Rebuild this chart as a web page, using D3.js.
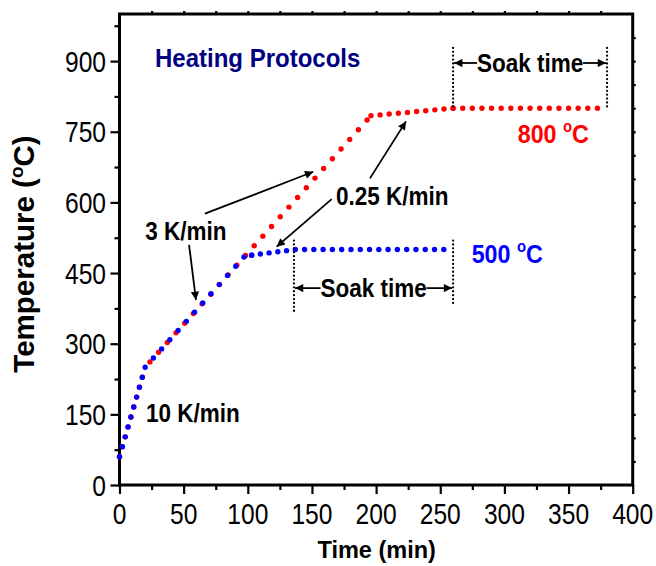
<!DOCTYPE html>
<html><head><meta charset="utf-8">
<script src="https://cdn.jsdelivr.net/npm/d3@7"></script>
<style>
body{margin:0;background:#fff}
text{font-family:"Liberation Sans",Arial,Helvetica,sans-serif}
</style>
</head><body>
<svg id="c" width="656" height="566"></svg>
<script>
// ---- data ----
const timeTicks = [0, 50, 100, 150, 200, 250, 300, 350, 400];
const tempTicks = [0, 150, 300, 450, 600, 750, 900];
const blueTime = [0, 20, 97, 103, 137, 260];
const blueTemp = [60, 250, 484, 488, 500, 500];
const redTime  = [0, 20, 196, 260, 380];
const redTemp  = [60, 250, 784, 800, 800];
// annotations (data coordinates)
const rateLabels = [
  {t: 20, T: 520, text: "3 K/min"},
  {t: 20.7, T: 134, text: "10 K/min"},
  {t: 168.7, T: 594, text: "0.25 K/min"}
];
const rateArrows = [
  {t0: 66.6, T0: 576, t1: 151, T1: 665},
  {t0: 54.2, T0: 510, t1: 59.6, T1: 393},
  {t0: 165.4, T0: 607, t1: 122.5, T1: 506},
  {t0: 195.2, T0: 651, t1: 223.3, T1: 772}
];
const soakStart = [136, 260];
const soakEnd   = [260, 380];
const soakTop   = [519, 928];
const soakBotL  = [368, 800];
const soakBotR  = [382, 800];
const soakArrowT = [418, 896];

const svg = d3.select("#c");
const x = d3.scaleLinear().domain([0, 400]).range([119.5, 632.7]);
const y = d3.scaleLinear().domain([0, 1000]).range([485, 14]);

const defs = svg.append("defs");
defs.append("marker").attr("id","ah").attr("viewBox","0 0 10 10")
  .attr("refX",10).attr("refY",5).attr("markerWidth",6).attr("markerHeight",4.6)
  .attr("markerUnits","strokeWidth").attr("orient","auto")
  .append("path").attr("d","M0,0 L10,5 L0,10 Z").attr("fill","#000");

// text helper: place text with horizontal compression
function label(px, py, opts) {
  const g = svg.append("g").attr("transform", `translate(${px},${py}) scale(${opts.sx || 1},1)`);
  return g.append("text").attr("x",0).attr("y",0)
    .attr("font-size", opts.size).attr("font-weight", opts.bold ? "bold" : "normal")
    .attr("fill", opts.fill || "#000").attr("text-anchor", opts.anchor || "start");
}

// ---- axes (ticks) ----
svg.append("g").attr("transform",`translate(0,${y(0)})`)
  .call(d3.axisBottom(x).tickValues(timeTicks).tickSize(9).tickFormat(""));
svg.append("g").attr("transform",`translate(0,${y(0)})`)
  .call(d3.axisBottom(x).tickValues(d3.range(25,400,50)).tickSize(5).tickFormat(""));
svg.append("g").attr("transform",`translate(${x(0)},0)`)
  .call(d3.axisLeft(y).tickValues(tempTicks).tickSize(9).tickFormat(""));
svg.append("g").attr("transform",`translate(${x(0)},0)`)
  .call(d3.axisLeft(y).tickValues(d3.range(75,1000,150)).tickSize(5).tickFormat(""));
svg.append("g").attr("transform",`translate(0,${y(1000)})`)
  .call(d3.axisTop(x).tickValues(d3.range(25,400,25)).tickSize(3).tickFormat(""));
svg.append("g").attr("transform",`translate(${x(400)},0)`)
  .call(d3.axisRight(y).tickValues(d3.range(50,1000,50)).tickSize(3).tickFormat(""));
svg.selectAll(".domain").remove();
svg.selectAll(".tick line").attr("stroke","#000").attr("stroke-width",2.2);

// tick labels
timeTicks.forEach(v => label(x(v), 524, {size: 30, sx: 0.82, anchor: "middle"}).text(v));
tempTicks.forEach(v => label(106, y(v) + 10.7, {size: 30, sx: 0.82, anchor: "end"}).text(v));

svg.append("rect").attr("x",x(0)).attr("y",y(1000))
  .attr("width",x(400)-x(0)).attr("height",y(0)-y(1000))
  .attr("fill","none").attr("stroke","#000").attr("stroke-width",3);

// axis titles
label(376.7, 558, {size: 23.5, bold: true, anchor: "middle"}).text("Time (min)");
const yl = svg.append("text").attr("transform","translate(34,254) rotate(-90)")
  .attr("text-anchor","middle").attr("font-size",29.5).attr("font-weight","bold");
yl.append("tspan").text("Temperature (");
yl.append("tspan").attr("font-size",19).attr("dy",-11).text("o");
yl.append("tspan").attr("dy",11).text("C)");

// ---- series: dotted lines, step measured along the major axis of each segment ----
const STEP = 9.5;
function dotted(times, temps, color, offsets) {
  const pts = d3.zip(times, temps);
  const g = svg.append("g");
  for (let i = 0; i < pts.length - 1; i++) {
    const a = pts[i], b = pts[i + 1];
    const dx = x(b[0]) - x(a[0]), dy = y(b[1]) - y(a[1]);
    const len = Math.hypot(dx, dy), cheb = Math.max(Math.abs(dx), Math.abs(dy));
    const n = Math.max(1, Math.round(len / (STEP * len / cheb)));
    const period = len / n;
    g.append("path").attr("d", d3.line().x(d => x(d[0])).y(d => y(d[1]))([a, b]))
      .attr("fill","none").attr("stroke",color).attr("stroke-width",5.4)
      .attr("stroke-linecap","round").attr("stroke-dasharray",`0 ${period}`)
      .attr("stroke-dashoffset", offsets[i] || 0);
  }
}
dotted(redTime, redTemp, "#ff0000", [0, 5.8]);
dotted(blueTime, blueTemp, "#0000ff", []);

// ---- soak markers ----
soakStart.forEach((s, i) => {
  const e = soakEnd[i];
  [[s, soakTop[i], soakBotL[i]], [e, soakTop[i], soakBotR[i]]].forEach(v => {
    svg.append("line").attr("x1",x(v[0])).attr("x2",x(v[0])).attr("y1",y(v[1])).attr("y2",y(v[2]))
      .attr("stroke","#000").attr("stroke-width",2.3).attr("stroke-linecap","round")
      .attr("stroke-dasharray","0 3.9");
  });
  const cx = (x(s) + x(e)) / 2;
  const tw = 53;
  const ay = y(soakArrowT[i]);
  svg.append("line").attr("x1",cx - tw).attr("x2",x(s)+1).attr("y1",ay).attr("y2",ay)
    .attr("stroke","#000").attr("stroke-width",1.8).attr("marker-end","url(#ah)");
  svg.append("line").attr("x1",cx + tw).attr("x2",x(e)-1).attr("y1",ay).attr("y2",ay)
    .attr("stroke","#000").attr("stroke-width",1.8).attr("marker-end","url(#ah)");
  label(cx, ay + 8.8, {size: 25, sx: 0.9, bold: true, anchor: "middle"}).text("Soak time");
});

// ---- rate arrows & labels ----
rateArrows.forEach(a => {
  svg.append("line").attr("x1",x(a.t0)).attr("y1",y(a.T0)).attr("x2",x(a.t1)).attr("y2",y(a.T1))
    .attr("stroke","#000").attr("stroke-width",1.8).attr("marker-end","url(#ah)");
});
rateLabels.forEach(l => {
  label(x(l.t), y(l.T), {size: 25, sx: 0.9, bold: true}).text(l.text);
});

label(x(27.7), y(888), {size: 25, sx: 0.96, bold: true, fill: "#000080"}).text("Heating Protocols");

function tempLabel(t, T, val, col) {
  const tx = label(x(t), y(T), {size: 25, sx: 0.93, bold: true, fill: col});
  tx.append("tspan").text(val + " ");
  tx.append("tspan").attr("font-size",16).attr("dy",-11).text("o");
  tx.append("tspan").attr("dy",11).text("C");
}
tempLabel(310.4, 726, "800", "#ff0000");
tempLabel(274.5, 471, "500", "#0000ff");
</script>
</body></html>
